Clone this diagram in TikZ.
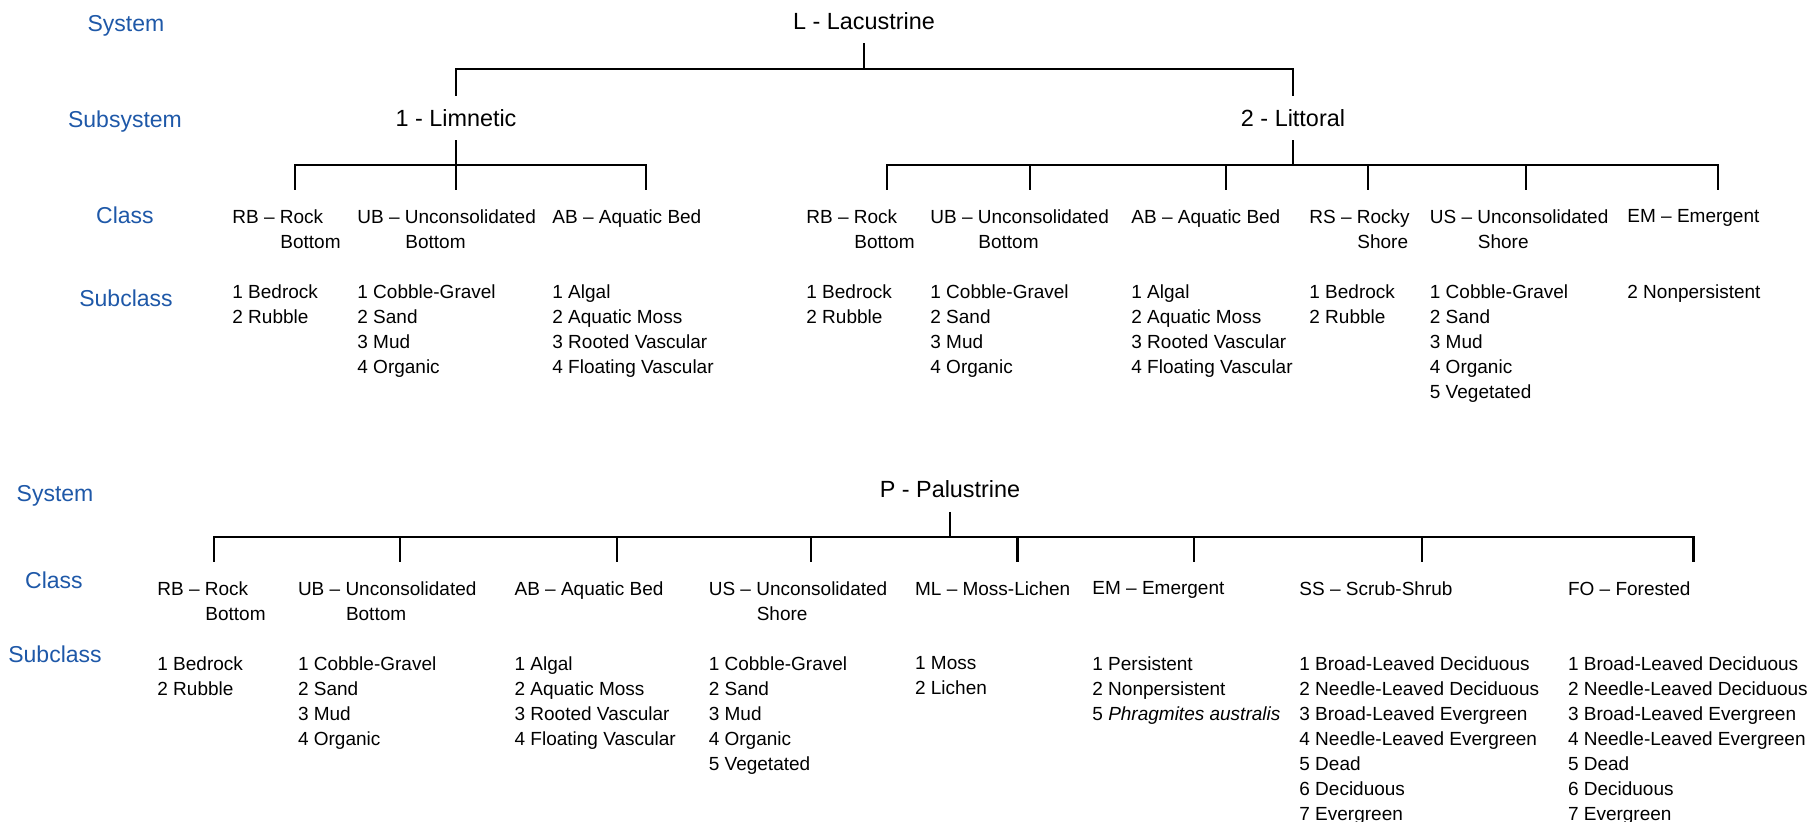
\documentclass[tikz,border=0pt]{standalone}
\usepackage{fontspec}
\setmainfont{Liberation Sans}
\definecolor{levelblue}{RGB}{30,88,168}
\tikzset{
  level/.style={levelblue, font=\fontsize{11.5}{14}\selectfont, anchor=base, inner sep=0pt},
  title/.style={font=\fontsize{11.7}{14}\selectfont, anchor=base, text depth=0pt, inner xsep=2pt, inner ysep=6.8pt},
  cls/.style={font=\fontsize{9.5}{12.5}\selectfont, anchor=north west, yshift=6.8pt, align=left, inner sep=0pt},
  branch/.style={line width=1.1pt},
}
\newcommand{\twoline}[2]{#1\\\hspace*{24pt}#2}
\newcommand{\rocksub}{1 Bedrock\\2 Rubble}
\newcommand{\ubsub}{1 Cobble-Gravel\\2 Sand\\3 Mud\\4 Organic}
\newcommand{\ussub}{1 Cobble-Gravel\\2 Sand\\3 Mud\\4 Organic\\5 Vegetated}
\newcommand{\absub}{1 Algal\\2 Aquatic Moss\\3 Rooted Vascular\\4 Floating Vascular}
\newcommand{\woodsub}{1 Broad-Leaved Deciduous\\2 Needle-Leaved Deciduous\\3 Broad-Leaved Evergreen\\4 Needle-Leaved Evergreen\\5 Dead\\6 Deciduous\\7 Evergreen}

\begin{document}
\begin{tikzpicture}[x=0.5pt, y=-0.5pt]
  \useasboundingbox (0,0) rectangle (1812,822);

  % ---- lacustrine ----
  \node[level] (sys1) at (126,31.7) {System};
  \node[level] (subsys) at (125,127.7) {Subsystem};
  \node[level] (class1) at (125,224) {Class};
  \node[level] (subcl1) at (126,307) {Subclass};

  \node[title] (lac) at (864,29.3) {L - Lacustrine};
  \node[title] (lim) at (456,126.5) {1 - Limnetic};
  \node[title] (lit) at (1293,126.5) {2 - Littoral};

  \coordinate (lacbus) at (864,69.3);
  \draw[branch] (lac.south) -- (lacbus);
  \draw[branch] (lacbus) -| (lim.north);
  \draw[branch] (lacbus) -| (lit.north);

  % limnetic classes
  \coordinate (limbus) at (456,165);
  \draw[branch] (lim.south) -- (limbus);
  \foreach \x/\n in {295/rb,456/ub,646/ab} {
    \coordinate (lim-\n-in) at (\x,190);
    \draw[branch] (limbus) -| (lim-\n-in);
  }
  \node[cls] (lim-rb) at (232,223) {\twoline{RB -- Rock}{Bottom}};
  \node[cls] (lim-ub) at (357,223) {\twoline{UB -- Unconsolidated}{Bottom}};
  \node[cls] (lim-ab) at (552,223) {AB -- Aquatic Bed};
  \node[cls] (lim-rb-sub) at (232,297.7) {\rocksub};
  \node[cls] (lim-ub-sub) at (357,297.7) {\ubsub};
  \node[cls] (lim-ab-sub) at (552,297.7) {\absub};

  % littoral classes
  \coordinate (litbus) at (1293,165);
  \draw[branch] (lit.south) -- (litbus);
  \foreach \x/\n in {887/rb,1030/ub,1226/ab,1368/rs,1526/us,1718/em} {
    \coordinate (lit-\n-in) at (\x,190);
    \draw[branch] (litbus) -| (lit-\n-in);
  }
  \node[cls] (lit-rb) at (806,223) {\twoline{RB -- Rock}{Bottom}};
  \node[cls] (lit-ub) at (930,223) {\twoline{UB -- Unconsolidated}{Bottom}};
  \node[cls] (lit-ab) at (1131,223) {AB -- Aquatic Bed};
  \node[cls] (lit-rs) at (1309,223) {\twoline{RS -- Rocky}{Shore}};
  \node[cls] (lit-us) at (1429.5,223) {\twoline{US -- Unconsolidated}{Shore}};
  \node[cls] (lit-em) at (1627,223) {EM -- Emergent};
  \node[cls] (lit-rb-sub) at (806,297.7) {\rocksub};
  \node[cls] (lit-ub-sub) at (930,297.7) {\ubsub};
  \node[cls] (lit-ab-sub) at (1131,297.7) {\absub};
  \node[cls] (lit-rs-sub) at (1309,297.7) {\rocksub};
  \node[cls] (lit-us-sub) at (1429.5,297.7) {\ussub};
  \node[cls] (lit-em-sub) at (1627,297.7) {2 Nonpersistent};

  % ---- palustrine ----
  \node[level] (sys2) at (55,501.5) {System};
  \node[level] (class2) at (54,589) {Class};
  \node[level] (subcl2) at (55,663) {Subclass};

  \node[title] (pal) at (950,498) {P - Palustrine};
  \coordinate (palbus) at (950,537);
  \draw[branch] (pal.south) -- (palbus);
  \foreach \x/\n in {213.8/rb,400/ub,617/ab,810.6/us,1017.5/ml,1193.7/em,1422/ss,1693.5/fo} {
    \coordinate (pal-\n-in) at (\x,562);
    \draw[branch] (palbus) -| (pal-\n-in);
  }
  \node[cls] (pal-rb) at (157,595) {\twoline{RB -- Rock}{Bottom}};
  \node[cls] (pal-ub) at (297.6,595) {\twoline{UB -- Unconsolidated}{Bottom}};
  \node[cls] (pal-ab) at (514.2,595) {AB -- Aquatic Bed};
  \node[cls] (pal-us) at (708.4,595) {\twoline{US -- Unconsolidated}{Shore}};
  \node[cls] (pal-ml) at (914.7,595) {ML -- Moss-Lichen};
  \node[cls] (pal-em) at (1092,595) {EM -- Emergent};
  \node[cls] (pal-ss) at (1299,595) {SS -- Scrub-Shrub};
  \node[cls] (pal-fo) at (1567.6,595) {FO -- Forested};
  \node[cls] (pal-rb-sub) at (157,670) {\rocksub};
  \node[cls] (pal-ub-sub) at (297.6,670) {\ubsub};
  \node[cls] (pal-ab-sub) at (514.2,670) {\absub};
  \node[cls] (pal-us-sub) at (708.4,670) {\ussub};
  \node[cls] (pal-ml-sub) at (914.7,670) {1 Moss\\2 Lichen};
  \node[cls] (pal-em-sub) at (1092,670) {1 Persistent\\2 Nonpersistent\\5 \textit{Phragmites australis}};
  \node[cls] (pal-ss-sub) at (1299,670) {\woodsub};
  \node[cls] (pal-fo-sub) at (1567.6,670) {\woodsub};
\end{tikzpicture}
\end{document}
